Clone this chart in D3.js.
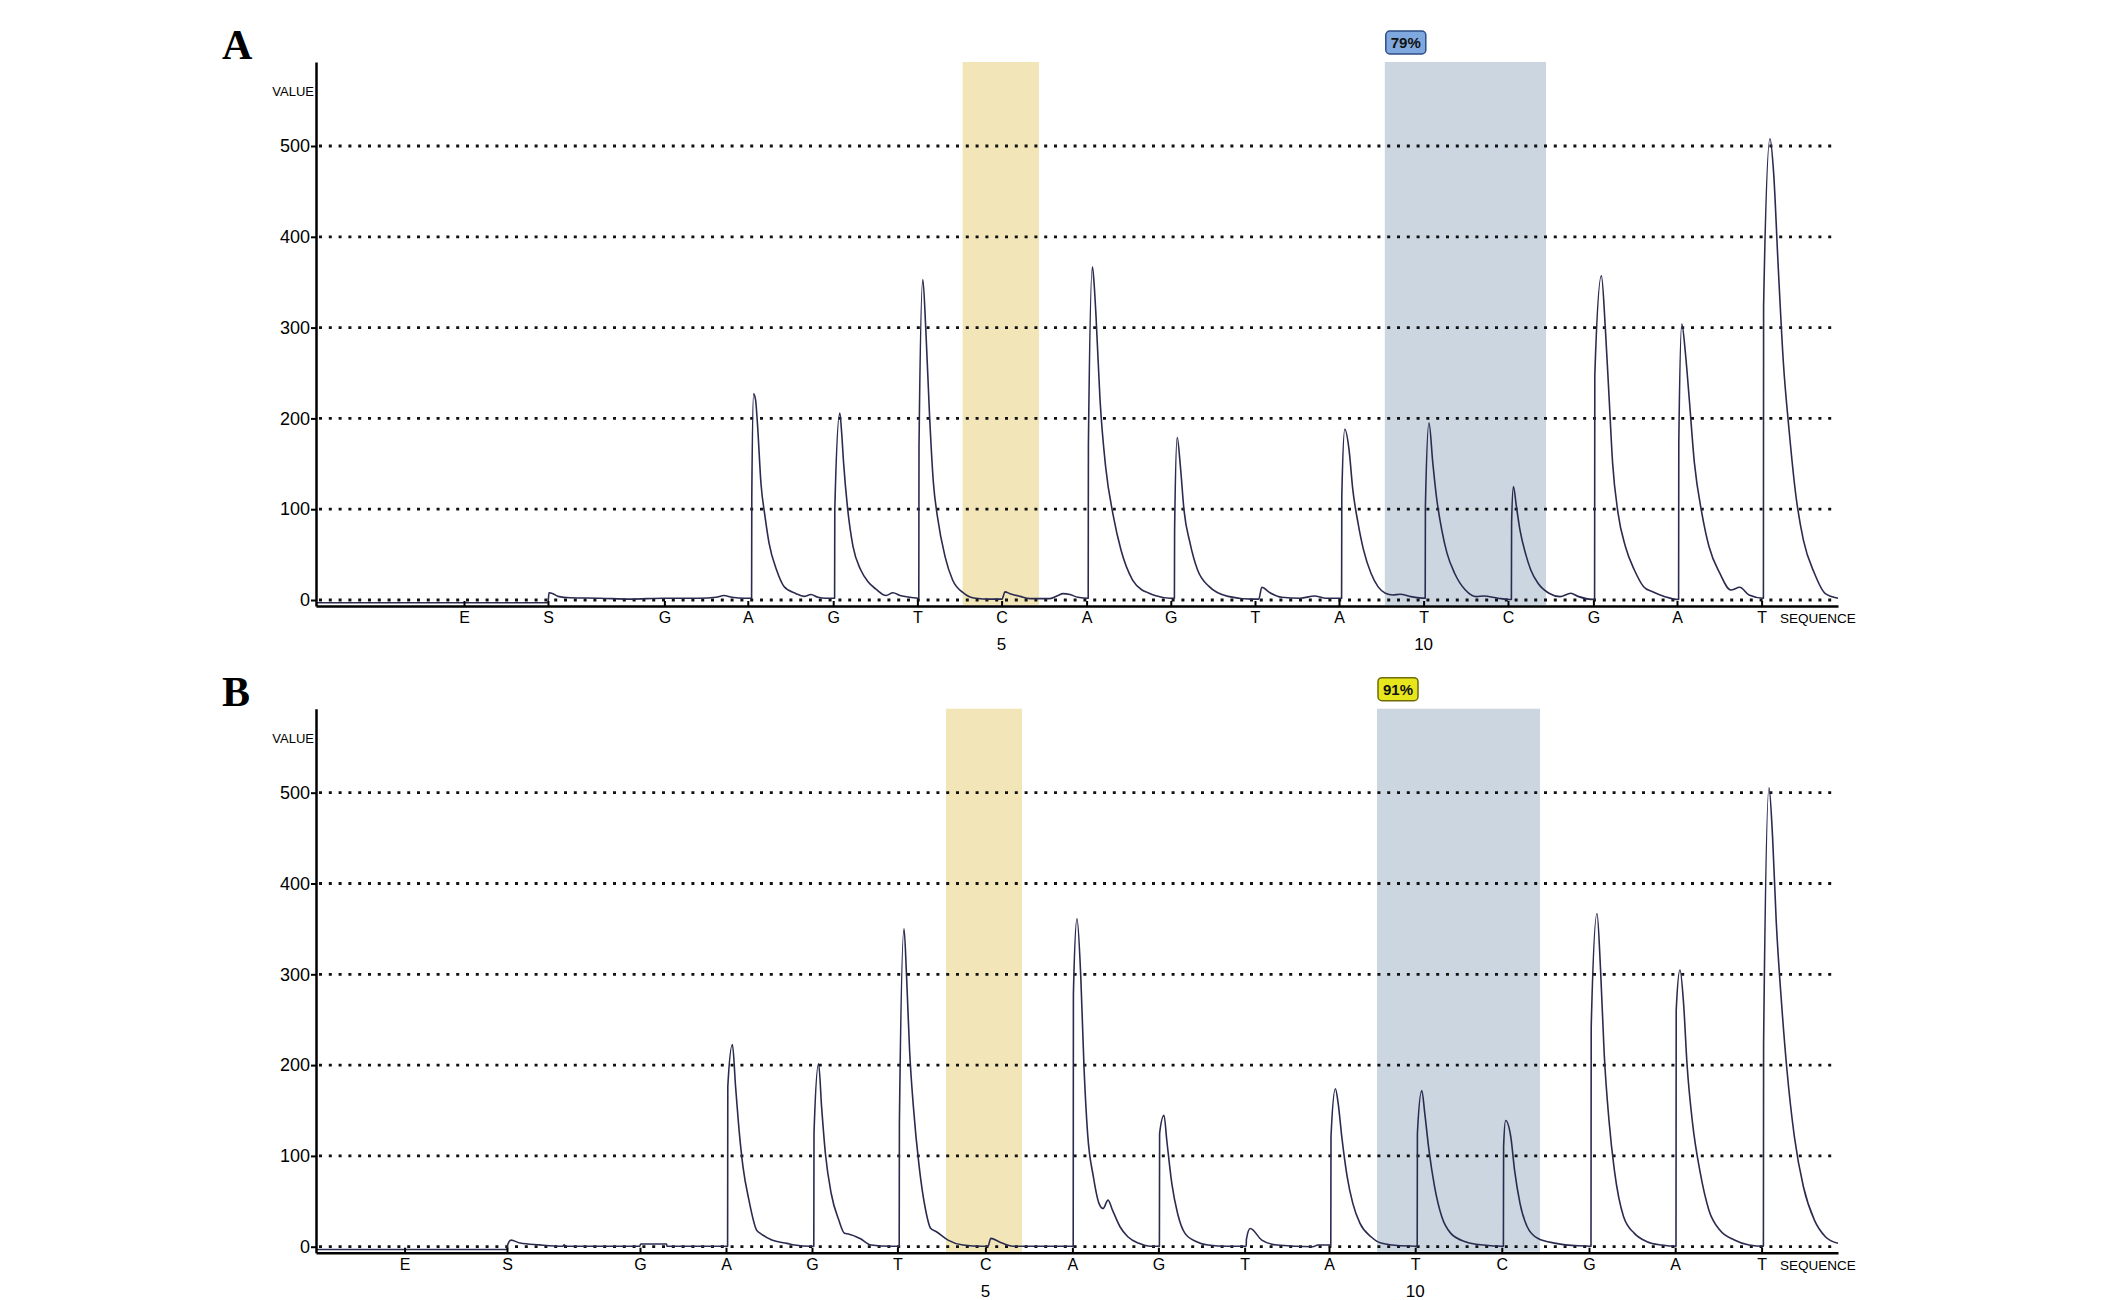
<!DOCTYPE html>
<html><head><meta charset="utf-8">
<script src="https://cdn.jsdelivr.net/npm/d3@7"></script>
<style>body{margin:0;background:#fff} svg{display:block;background:#fff}</style>
</head><body><svg id="c" width="2126" height="1300"></svg>
<script>
// ---------------- DATA ----------------
// Dispensation order (x-axis labels)
const dispensation = ["E","S","G","A","G","T","C","A","G","T","A","T","C","G","A","T"];
// Sequence position numbers shown under some dispensations (index into dispensation)
const seqNumbers = [{at: 6, label: "5"}, {at: 11, label: "10"}];
// Value axis ticks
const yTicks = [0, 100, 200, 300, 400, 500];
// Run time of each dispensation (samples)
const tickTimesA = [74, 116, 174.2, 215.9, 258.6, 300.7, 342.8, 385.3, 427.4, 469.5, 511.5, 553.8, 596, 638.7, 680.5, 722.8];
const tickTimesB = [44.3, 95.5, 162, 205, 248, 290.7, 334.7, 378.2, 421.2, 464.3, 506.5, 549.6, 592.9, 636.5, 679.6, 722.8];
// Highlighted analysis regions (run time)
const highlightsA = [{from: 323.3, to: 361.5, kind: "var"}, {from: 534.4, to: 615, kind: "cpg"}];
const highlightsB = [{from: 315, to: 353, kind: "var"}, {from: 530.5, to: 612, kind: "cpg"}];
const scoreA = "79%";
const scoreB = "91%";
// Pyrogram trace [run time, signal value]
const traceA = [
 [0,-3],[116,-3],[116.5,8],[118.5,7],[121,4],[127,2.5],[142,2],[157,1],[174,2],[192,2],[200,3],[204,5],[208,3],[214.5,2],[217.8,2],
 [217.9,114],[218.8,227],[219.8,220],[220.7,195],[222.5,128],[224.5,92],[226.5,63],[230.3,33],[234,15],[240,7],[244,4],[247.5,6],[251,3],[255,2],[259.3,2],
 [259.4,100],[261.9,206],[262.8,185],[263.8,151],[265.7,103],[268.5,59],[272.4,33],[276,20],[280,12],[285,5],[288.5,8],[292,5],[297,3],[301.4,2],
 [301.5,168],[303.4,353],[304.9,298],[306.8,202],[308.7,129],[310.7,92],[314.5,48],[318.3,22],[324,7.4],[329.8,2],[337,1],[343,1],
 [344.5,9],[347,7],[352,4],[357,1.5],[367,1.5],[371,5],[373.5,7],[377,6],[381,3],[386.1,2],
 [386.2,170],[388.2,367],[389,350],[390,313],[392,221],[394.8,147],[398.7,92],[402.5,55],[408.3,22],[413,11],[416,8],[419.5,5],[427,2],[429.2,2],
 [429.3,77],[430.6,179],[432.2,147],[434,99],[437,63],[440.8,33],[446.5,15],[456,4],[467.5,1],[471.4,1],
 [472.9,14],[477,8],[482.9,3],[492,2],[499.3,4.4],[504.5,2],[512.8,2],
 [512.9,114],[514.4,188],[516.5,166],[518.4,121.5],[521,85],[523.8,55],[527.5,29.5],[531,14.7],[534.7,7.4],[538.4,5.5],[542,6.3],[547.5,3.7],[554.6,2],
 [554.7,103],[556.5,195],[558.4,151],[560.2,114],[562.9,77],[565.5,51.6],[569.3,29.5],[574.7,11],[580.2,3.7],[583.8,4.4],[591,2],[597.7,0.5],
 [597.8,85],[598.7,125],[600.2,103],[602,77],[604.7,51.6],[607.4,33],[611,18.4],[616.5,7.4],[622,3.7],[627.4,7.4],[631,4],[639.3,0.5],
 [639.4,247],[642.7,357],[644.7,298],[646.5,225],[648.3,151],[651,96],[654.7,59],[659.2,33],[663.8,14.7],[668.3,9],[674.5,3.7],[681.3,0.5],
 [681.4,173],[682.9,304],[684.7,272],[686.5,225],[689.2,151],[692.9,96],[696.5,59],[701.9,29.5],[707.4,11],[711.9,14],[716.5,5.5],[723.7,2],
 [723.8,324],[727,508],[728.8,471],[731,372],[733.7,261],[736.5,188],[740,114],[743.7,66],[749.2,29.5],[754.5,7.4],[761,2]
];
const traceB = [
 [0,-3],[95.5,-3],[95.8,2],[97.5,7.3],[102,4],[111.7,2],[123.5,0.5],[124,2],[125,0.5],[161.9,0.5],[162.3,3],[175.3,3],[175.5,0.5],[205.8,0.5],
 [205.9,176],[208.2,222.7],[209.8,176],[211.7,124.6],[213.5,88],[216.5,51],[220.3,18.3],[222.2,14.7],[227.9,7.3],[235.5,3.7],[239.4,1.8],[247,0.5],[248.9,0.5],
 [249,124.6],[251.3,201.5],[252.8,154],[254.7,102.6],[257.6,58.6],[261.4,29.3],[264.3,14.7],[266.2,14],[272,9],[277.5,1.8],[287.3,0.5],[291.6,0.5],
 [291.7,135.6],[294,350],[295.3,296.7],[296.8,216],[298.7,154],[301.6,88],[304.5,44],[307.4,20],[310.2,16.5],[316,7.3],[323.5,1.8],[333,0.5],[336,0.5],
 [337.4,9.2],[342,5],[348.5,0.5],[378.6,0.5],
 [378.7,278],[380.5,361],[382.4,296.7],[384,198],[385.8,124.6],[388.7,77],[391.5,47.7],[393.5,42],[396,51.3],[398.3,40],[402,22],[405.9,11],[411.5,3.7],[417.4,0.5],[421.7,0.5],
 [421.8,124.6],[424,144.7],[425.4,117],[427.9,69.7],[430.8,36.6],[434.5,14.7],[440.3,5.5],[446,1.8],[455.5,0.5],[465.1,0.5],
 [465.2,8],[467.1,20],[472.9,7.3],[480.5,1.8],[498.4,0],[501,1.8],[507.4,1.8],
 [507.5,121],[509.7,174],[511.1,157.6],[512.9,121],[515.6,77],[518.4,47.7],[522,25.7],[527.5,11],[532.9,3.7],[542,1],[550.6,0.5],
 [550.7,124.6],[552.9,172],[554.4,146.6],[556.5,106],[559.3,66],[562.9,33],[567.4,14.7],[574.7,5.5],[583.8,1.8],[593.7,0.5],
 [593.8,110],[594.8,139],[597.4,121],[599.3,84],[602,47.7],[605.6,22],[611,9],[620,3.7],[631,1],[637.5,0.5],
 [637.6,241.8],[640.5,367],[642.3,304],[644.1,212.5],[646.5,139],[649.2,84],[653.8,33],[659.2,14.7],[665.5,5.5],[672.9,1.8],[680,0.5],
 [680.1,260],[682,304.8],[683.8,267.5],[685.5,201.5],[688.3,135.6],[691.9,84],[696.5,40],[701.9,18.3],[709.2,7.3],[716.5,1.8],[723.7,0.5],
 [723.8,223.5],[726.5,505.5],[728.3,450.5],[730.1,359],[732.8,267.5],[735.5,194],[739.2,121],[743.7,66],[749.2,29.3],[754.7,11],[761,3.7]
];

// ---------------- DRAWING ----------------
const svg = d3.select("#c");
const FONT = "'Liberation Sans', Arial, sans-serif";

const panels = [
  {letter: "A", ticks: tickTimesA, trace: traceA, highlights: highlightsA, score: scoreA, scoreFill: "#7fa8de", scoreStroke: "#2c4f86", off: 0},
  {letter: "B", ticks: tickTimesB, trace: traceB, highlights: highlightsB, score: scoreB, scoreFill: "#e7e61c", scoreStroke: "#6e6c08", off: 646.7}
];

panels.forEach(p => {
  const g = svg.append("g").attr("transform", `translate(0,${p.off})`);
  const x = d3.scaleLinear().domain([0, 761]).range([316, 1838]);
  const y = d3.scaleLinear().domain([-6.6, 592.5]).range([606, 62]);

  // highlights
  g.selectAll("rect.hl").data(p.highlights).join("rect")
    .attr("class", "hl")
    .attr("x", d => x(d.from)).attr("width", d => x(d.to) - x(d.from))
    .attr("y", y(592.5)).attr("height", y(-6.6) - y(592.5) - 1)
    .attr("fill", d => d.kind === "var" ? "#f2e6b8" : "#cbd6e0");

  // score badge on the second highlight
  const hb = p.highlights[1];
  const bx = x(hb.from) + 1, by = y(592.5) - 31;
  g.append("rect").attr("x", bx).attr("y", by).attr("width", 40).attr("height", 23)
    .attr("rx", 4).attr("fill", p.scoreFill).attr("stroke", p.scoreStroke).attr("stroke-width", 1.5);
  g.append("text").attr("x", bx + 20).attr("y", by + 17).attr("text-anchor", "middle")
    .attr("font-family", FONT).attr("font-weight", "bold").attr("font-size", 15).attr("fill", "#111")
    .text(p.score);

  // gridlines
  g.selectAll("line.grid").data(yTicks).join("line")
    .attr("class", "grid")
    .attr("x1", x(0) + 3).attr("x2", x(761))
    .attr("y1", d => y(d)).attr("y2", d => y(d))
    .attr("stroke", "#111").attr("stroke-width", 2.8).attr("stroke-dasharray", "3 6.8");

  // trace
  const line = d3.line().x(d => x(d[0])).y(d => y(d[1])).curve(d3.curveMonotoneX);
  g.append("path").datum(p.trace).attr("d", line)
    .attr("fill", "none").attr("stroke", "#2b2b50").attr("stroke-width", 1.6).attr("stroke-linejoin", "round");

  // y axis
  const ya = g.append("g").attr("transform", `translate(${x(0)},0)`)
    .call(d3.axisLeft(y).tickValues(yTicks).tickSizeInner(5).tickSizeOuter(0).tickPadding(1).tickFormat(d3.format("d")));
  ya.select(".domain").attr("stroke", "#000").attr("stroke-width", 2.5);
  ya.selectAll(".tick line").attr("stroke", "#000").attr("stroke-width", 2);
  ya.selectAll(".tick text").attr("font-family", FONT).attr("font-size", 18).attr("fill", "#000");

  // x axis
  const xa = g.append("g").attr("transform", `translate(0,${y(-6.6)})`)
    .call(d3.axisBottom(x).tickValues(p.ticks).tickSizeInner(-5).tickSizeOuter(0)
      .tickFormat((d, i) => dispensation[i]));
  xa.select(".domain").attr("stroke", "#000").attr("stroke-width", 2.5);
  xa.selectAll(".tick line").attr("stroke", "#000").attr("stroke-width", 2);
  xa.selectAll(".tick text").attr("y", 17).attr("dy", 0)
    .attr("font-family", FONT).attr("font-size", 16).attr("fill", "#000");

  // sequence position numbers
  g.selectAll("text.num").data(seqNumbers).join("text")
    .attr("class", "num")
    .attr("x", d => x(p.ticks[d.at])).attr("y", y(-6.6) + 44)
    .attr("text-anchor", "middle").attr("font-family", FONT).attr("font-size", 17).attr("fill", "#000")
    .text(d => d.label);

  // axis titles
  g.append("text").attr("x", 314).attr("y", 96).attr("text-anchor", "end")
    .attr("font-family", FONT).attr("font-size", 13).attr("fill", "#000").text("VALUE");
  g.append("text").attr("x", 1780).attr("y", y(-6.6) + 17)
    .attr("font-family", FONT).attr("font-size", 13.5).attr("fill", "#000").text("SEQUENCE");

  // panel letter
  g.append("text").attr("x", 222).attr("y", 59)
    .attr("font-family", "'Liberation Serif', 'Times New Roman', serif").attr("font-weight", "bold")
    .attr("font-size", 42).attr("fill", "#000").text(p.letter);
});
</script>
</body></html>
